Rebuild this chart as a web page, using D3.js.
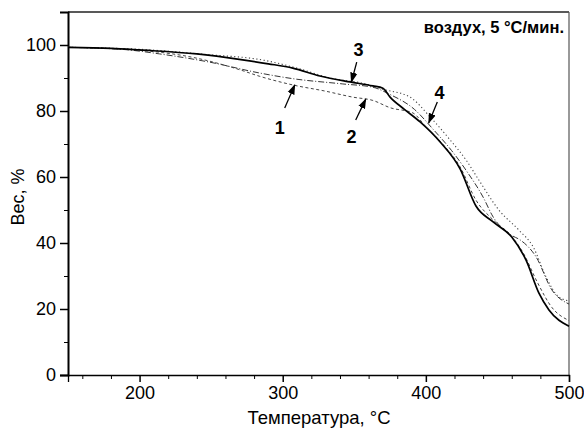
<!DOCTYPE html>
<html>
<head>
<meta charset="utf-8">
<script src="https://cdn.jsdelivr.net/npm/d3@7"></script>
<style>
  body { margin: 0; background: #fff; }
  svg text { font-family: "Liberation Sans", Arial, sans-serif; fill: #000; }
</style>
</head>
<body>
<div id="chart"></div>
<script>
// temperature (°C), weight (%)
const curve1 = [[150,99.3],[190,98.6],[214,97.3],[249,94.8],[284,91.5],[307,89.8],[342,88.2],[363,87.2],[375,85.0],[392,80.5],[405,74.5],[418,68.0],[428,62.1],[440,53.9],[447,47.9],[460,42.3],[466,40.9],[477,35.8],[488,25.8],[500,21.5]];
const curve2 = [[150,99.3],[200,98.4],[240,96.0],[270,92.5],[284,90.5],[307,87.9],[330,86.0],[349,84.2],[363,83.2],[375,81.0],[391,79.4],[400,75.2],[410,70.8],[424,63.0],[435,53.0],[447,47.0],[460,42.0],[468,37.0],[478,28.0],[488,20.5],[500,16.5]];
const curve3 = [[150,99.3],[180,99.0],[200,98.5],[240,97.3],[272,95.5],[290,94.3],[307,93.0],[326,90.6],[347,88.8],[363,87.6],[370,86.9],[375,84.2],[385,80.5],[396,76.7],[410,70.6],[424,62.4],[435,51.2],[447,46.4],[460,41.8],[470,34.8],[479,24.8],[486,19.7],[500,14.8]];
const curve4 = [[150,99.3],[200,98.7],[250,97.0],[284,95.6],[310,93.0],[335,89.8],[355,88.5],[370,86.6],[389,84.2],[403,78.2],[417,71.2],[428,65.2],[437,59.1],[451,50.0],[465,43.9],[475,38.8],[484,29.7],[493,23.6],[500,22.5]];

const xMajor = [200, 300, 400, 500];
const xMinor = [160, 180, 220, 240, 260, 280, 320, 340, 360, 380, 420, 440, 460, 480];
const yMajor = [0, 20, 40, 60, 80, 100];
const yMinor = [10, 30, 50, 70, 90];

// label text, label point, arrow tail, arrow tip (data units)
const notes = [
  { t: "1", at: [298, 74.8], from: [301.4, 80.9], to: [308.4, 87.9] },
  { t: "2", at: [348, 72.1], from: [351, 77.3], to: [358, 83.6] },
  { t: "3", at: [353, 98.5], from: [351.7, 94.8], to: [348, 88.8] },
  { t: "4", at: [409.6, 85.5], from: [408, 82.7], to: [402, 76.4] }
];

const width = 584,
  height = 428,
  margin = { top: 12, bottom: 53, left: 68, right: 15 };

const svg = d3.select("#chart")
  .append("svg")
  .attr("width", width)
  .attr("height", height);

const xScale = d3.scaleLinear()
  .domain([150, 500])
  .range([margin.left, width - margin.right]);

const yScale = d3.scaleLinear()
  .domain([0, 110])
  .range([height - margin.bottom, margin.top]);

// frame top / right
svg.append("line")
  .attr("x1", margin.left).attr("x2", width - margin.right)
  .attr("y1", margin.top).attr("y2", margin.top)
  .attr("stroke", "#222").attr("stroke-width", 1.3);
svg.append("line")
  .attr("x1", width - margin.right).attr("x2", width - margin.right)
  .attr("y1", margin.top).attr("y2", height - margin.bottom)
  .attr("stroke", "#555").attr("stroke-width", 1.2);

// axes
const yAxis = svg.append("g")
  .attr("transform", `translate(${margin.left},0)`)
  .call(d3.axisLeft(yScale).tickValues(yMajor).tickSize(8).tickPadding(4));
yAxis.select(".domain").attr("stroke-width", 2);
yAxis.selectAll("text").style("font-size", "18px");
yAxis.selectAll(".tick line").attr("stroke-width", 1.5);

svg.append("g")
  .attr("transform", `translate(${margin.left},0)`)
  .call(d3.axisLeft(yScale).tickValues(yMinor).tickSize(4).tickFormat(""))
  .call(g => g.select(".domain").remove());

const xAxis = svg.append("g")
  .attr("transform", `translate(0,${height - margin.bottom})`)
  .call(d3.axisBottom(xScale).tickValues(xMajor).tickSize(7).tickPadding(4));
xAxis.select(".domain").attr("stroke-width", 1.3);
xAxis.selectAll("text").style("font-size", "18px");
xAxis.selectAll(".tick line").attr("stroke-width", 1.5);

svg.append("g")
  .attr("transform", `translate(0,${height - margin.bottom})`)
  .call(d3.axisBottom(xScale).tickValues(xMinor).tickSize(4).tickFormat(""))
  .call(g => g.select(".domain").remove());

// axis titles
svg.append("text")
  .attr("x", 319).attr("y", 424)
  .attr("text-anchor", "middle")
  .style("font-size", "18.5px")
  .text("Температура, °С");

svg.append("text")
  .attr("transform", "translate(24,197) rotate(-90)")
  .attr("text-anchor", "middle")
  .style("font-size", "18px")
  .text("Вес, %");

svg.append("text")
  .attr("x", 564).attr("y", 33)
  .attr("text-anchor", "end")
  .style("font-size", "16.5px")
  .style("font-weight", "bold")
  .text("воздух, 5 °С/мин.");

// curves
const line = d3.line()
  .x(d => xScale(d[0]))
  .y(d => yScale(d[1]))
  .curve(d3.curveMonotoneX);

const series = [
  { data: curve1, dash: "6,2,1,2", w: 1, c: "#333" },
  { data: curve2, dash: "3,2.5", w: 1, c: "#444" },
  { data: curve4, dash: "1.2,2.5", w: 1.1, c: "#444" },
  { data: curve3, dash: null, w: 1.7, c: "#000" }
];

svg.selectAll("path.curve")
  .data(series)
  .join("path")
  .attr("class", "curve")
  .attr("d", d => line(d.data))
  .attr("fill", "none")
  .attr("stroke", d => d.c)
  .attr("stroke-width", d => d.w)
  .attr("stroke-dasharray", d => d.dash);

// arrows + numbers
svg.append("defs").append("marker")
  .attr("id", "head")
  .attr("viewBox", "0 0 10 10")
  .attr("refX", 9).attr("refY", 5)
  .attr("markerWidth", 8).attr("markerHeight", 8)
  .attr("orient", "auto")
  .append("path")
  .attr("d", "M0,1.5 L10,5 L0,8.5 Z")
  .attr("fill", "#000");

svg.selectAll("line.arrow")
  .data(notes)
  .join("line")
  .attr("class", "arrow")
  .attr("x1", d => xScale(d.from[0])).attr("y1", d => yScale(d.from[1]))
  .attr("x2", d => xScale(d.to[0])).attr("y2", d => yScale(d.to[1]))
  .attr("stroke", "#000").attr("stroke-width", 1.3)
  .attr("marker-end", "url(#head)");

svg.selectAll("text.num")
  .data(notes)
  .join("text")
  .attr("class", "num")
  .attr("x", d => xScale(d.at[0]))
  .attr("y", d => yScale(d.at[1]))
  .attr("text-anchor", "middle")
  .attr("dy", "0.35em")
  .style("font-size", "18px")
  .style("font-weight", "bold")
  .text(d => d.t);
</script>
</body>
</html>
